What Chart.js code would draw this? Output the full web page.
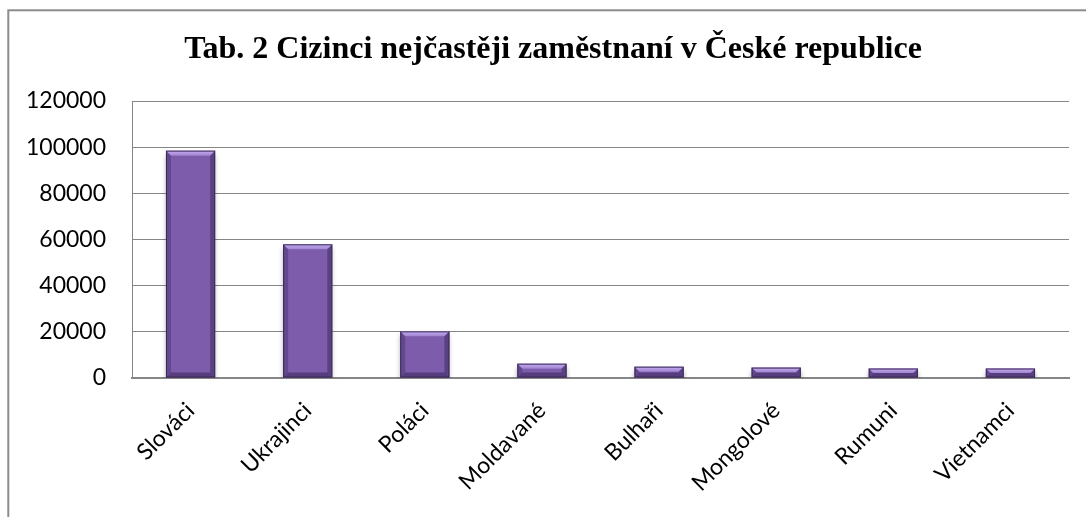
<!DOCTYPE html>
<html>
<head>
<meta charset="utf-8">
<script src="https://cdn.jsdelivr.net/npm/chart.js@4/dist/chart.umd.min.js"></script>
<style>
  html, body { margin: 0; padding: 0; background: #fff; }
  #wrap { width: 1086px; height: 517px; position: relative; }
</style>
</head>
<body>
<div id="wrap"><canvas id="myChart" width="1086" height="517"></canvas></div>
<script>
const titleText = "Tab. 2 Cizinci nejčastěji zaměstnaní v České republice";
const categories = ["Slováci", "Ukrajinci", "Poláci", "Moldavané", "Bulhaři", "Mongolové", "Rumuni", "Vietnamci"];
const workers = [98500, 57900, 20200, 6200, 4900, 4500, 4100, 4100];
const yTicks = [0, 20000, 40000, 60000, 80000, 100000, 120000];

const gridColor = "#868686";
const labelFont = { family: "Lato, 'Open Sans', sans-serif", size: 23 };

// frame around the whole chart + title text
const framePlugin = {
  id: "frame",
  beforeDraw(chart) {
    const ctx = chart.ctx;
    ctx.save();
    ctx.fillStyle = "#fff";
    ctx.fillRect(0, 0, chart.width, chart.height);
    ctx.strokeStyle = "#8c8c8c";
    ctx.lineWidth = 2;
    ctx.strokeRect(8.3, 10.3, 1200, 700);
    ctx.restore();
  },
  afterDraw(chart) {
    const ctx = chart.ctx;
    ctx.save();
    ctx.fillStyle = "#000";
    ctx.font = "bold 32px 'Liberation Serif', 'Times New Roman', serif";
    ctx.textAlign = "center";
    ctx.textBaseline = "alphabetic";
    ctx.fillText(titleText, 553, 58);
    ctx.restore();
  },
};

// soft shadow under the bars, then bevel edges on top of them
const bevelPlugin = {
  id: "bevel",
  beforeDatasetsDraw(chart) {
    const ctx = chart.ctx;
    ctx.save();
    ctx.shadowColor = "rgba(0,0,0,0.35)";
    ctx.shadowBlur = 5;
    ctx.shadowOffsetY = 4;
  },
  afterDatasetsDraw(chart) {
    const ctx = chart.ctx;
    ctx.restore();
    const meta = chart.getDatasetMeta(0);
    meta.data.forEach((bar) => {
      const left = bar.x - bar.width / 2;
      const right = bar.x + bar.width / 2;
      const top = bar.y;
      const bottom = bar.base;
      const h = bottom - top;
      const b = Math.min(5, h / 2);
      ctx.save();
      // top bevel (light)
      const g = ctx.createLinearGradient(0, top, 0, top + b);
      g.addColorStop(0, "#c6aef2");
      g.addColorStop(1, "#a083d0");
      ctx.fillStyle = g;
      ctx.beginPath();
      ctx.moveTo(left, top);
      ctx.lineTo(right, top);
      ctx.lineTo(right - b, top + b);
      ctx.lineTo(left + b, top + b);
      ctx.closePath();
      ctx.fill();
      // left side (dark)
      ctx.fillStyle = "rgba(40,25,70,0.3)";
      ctx.beginPath();
      ctx.moveTo(left, top);
      ctx.lineTo(left + b, top + b);
      ctx.lineTo(left + b, bottom - b);
      ctx.lineTo(left, bottom);
      ctx.closePath();
      ctx.fill();
      // right side (dark)
      ctx.fillStyle = "rgba(40,25,70,0.4)";
      ctx.beginPath();
      ctx.moveTo(right, top);
      ctx.lineTo(right - b, top + b);
      ctx.lineTo(right - b, bottom - b);
      ctx.lineTo(right, bottom);
      ctx.closePath();
      ctx.fill();
      // bottom bevel (darker)
      ctx.fillStyle = "rgba(40,25,70,0.45)";
      ctx.beginPath();
      ctx.moveTo(left, bottom);
      ctx.lineTo(right, bottom);
      ctx.lineTo(right - b, bottom - b);
      ctx.lineTo(left + b, bottom - b);
      ctx.closePath();
      ctx.fill();
      // outline
      ctx.strokeStyle = "#3b2a58";
      ctx.lineWidth = 1;
      ctx.strokeRect(left + 0.5, top + 0.5, bar.width - 1, h - 1);
      ctx.restore();
    });
  },
};

const ctx = document.getElementById("myChart").getContext("2d");
new Chart(ctx, {
  type: "bar",
  data: {
    labels: categories,
    datasets: [
      {
        label: "Cizinci",
        data: workers,
        backgroundColor: "#7c5cab",
        borderWidth: 0,
        barPercentage: 0.42,
        categoryPercentage: 1,
      },
    ],
  },
  options: {
    responsive: false,
    animation: false,
    layout: { padding: { left: 0, right: 17, top: 101, bottom: 0 } },
    plugins: {
      legend: { display: false },
      title: { display: false },
      tooltip: { enabled: false },
    },
    scales: {
      x: {
        grid: { display: false, drawTicks: false },
        border: { display: true, color: gridColor, width: 2 },
        ticks: {
          color: "#000",
          font: labelFont,
          minRotation: 45,
          maxRotation: 45,
          padding: 19,
          autoSkip: false,
        },
        afterFit: (scale) => {
          scale.height = 139;
        },
      },
      y: {
        min: 0,
        max: 120000,
        afterBuildTicks: (scale) => {
          scale.ticks = yTicks.map((v) => ({ value: v }));
        },
        grid: { color: gridColor, lineWidth: 1, drawTicks: false },
        border: { display: true, color: gridColor, width: 1 },
        ticks: {
          color: "#000",
          font: labelFont,
          padding: 26,
          callback: (value) => String(value),
        },
        afterFit: (scale) => {
          scale.width = 132;
        },
      },
    },
  },
  plugins: [framePlugin, bevelPlugin],
});
</script>
</body>
</html>
